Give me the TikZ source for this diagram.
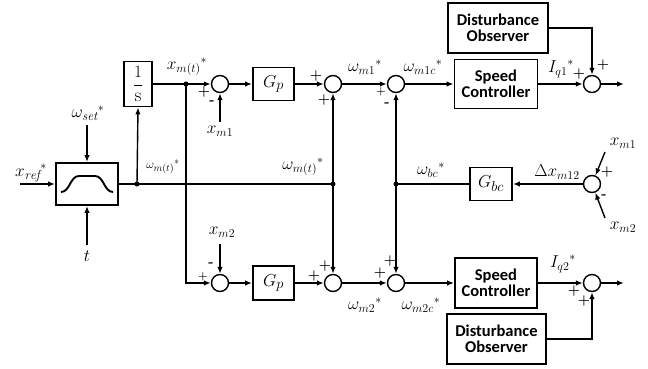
\documentclass[tikz,border=0pt]{standalone}
\usepackage{fontspec}
\newfontfamily\blkfont{Carlito}
\DeclareMathSizes{17}{17}{13}{10}
\DeclareMathSizes{13}{13}{10}{8}
\DeclareMathSizes{19}{19}{14.5}{11}
\usetikzlibrary{arrows.meta}
\begin{document}
\begin{tikzpicture}[x=1pt,y=-1pt,
  blk/.style={draw, line width=1.9pt, inner sep=0pt},
  sumn/.style={draw, circle, line width=1.4pt, minimum size=17pt, inner sep=0pt},
  dotn/.style={circle, fill, inner sep=0pt, minimum size=5pt},
  lbl/.style={font=\fontsize{17}{20}\selectfont, inner sep=0pt},
  slbl/.style={font=\fontsize{13}{15}\selectfont, inner sep=0pt},
  sgn/.style={font=\fontsize{14}{14}\selectfont\bfseries, inner sep=0pt},
  ssgn/.style={font=\fontsize{11}{12}\selectfont\bfseries, inner sep=0pt},
  txt/.style={font=\blkfont\bfseries\fontsize{16.5}{17}\selectfont, align=center},
  arr/.style={-{Latex[length=7pt,width=5.5pt]}, line width=1.4pt},
  ln/.style={line width=1.4pt}]
\useasboundingbox (0,0) rectangle (648,369);

% blocks
\node[blk, minimum width=62pt, minimum height=42pt] (ramp) at (87,184) {};
\draw[line width=1.9pt] (61,192) .. controls (70,192) and (70,176) .. (79,176) -- (95,176) .. controls (104,176) and (104,192) .. (113,192);
\node[blk, minimum width=28pt, minimum height=45pt] (integ) at (138,84) {\fontsize{19}{22}\selectfont$\displaystyle\frac{1}{\mathrm{s}}$};
\node[blk, minimum width=41pt, minimum height=33pt] (gp1) at (273.5,84) {\fontsize{19}{22}\selectfont$G_p$};
\node[blk, minimum width=41pt, minimum height=34pt] (gp2) at (273.5,283) {\fontsize{19}{22}\selectfont$G_p$};
\node[blk, minimum width=42pt, minimum height=33pt] (gbc) at (491,184) {\fontsize{19}{22}\selectfont$G_{bc}$};
\node[blk, minimum width=83pt, minimum height=49pt, txt] (sc1) at (496,84) {Speed\\[-1pt]Controller};
\node[blk, minimum width=82pt, minimum height=50pt, txt] (sc2) at (496,283) {Speed\\[-1pt]Controller};
\node[blk, minimum width=100pt, minimum height=50pt, txt] (do1) at (498,28) {Disturbance\\[-1pt]Observer};
\node[blk, minimum width=99pt, minimum height=50pt, txt] (do2) at (496.5,339) {Disturbance\\[-1pt]Observer};

% summing junctions
\node[sumn] (s1) at (220,84) {};
\node[sumn] (s2) at (333,84) {};
\node[sumn] (s3) at (396,84) {};
\node[sumn] (sf1) at (592,84) {};
\node[sumn] (s4) at (220,283) {};
\node[sumn] (s5) at (333,283) {};
\node[sumn] (s6) at (396,283) {};
\node[sumn] (sf2) at (592,283) {};
\node[sumn] (sd) at (592,184) {};

% junction dots
\node[dotn] (d1) at (137,184) {};
\node[dotn] (d2) at (186,84) {};
\node[dotn] (dA) at (333,184) {};
\node[dotn] (dB) at (396,184) {};

% free ends
\coordinate (xin) at (20,184);
\coordinate (wset) at (87,125);
\coordinate (tin) at (87,245);
\coordinate (xm1in) at (220,122);
\coordinate (xm2in) at (220,244);
\coordinate (xm1r) at (605,152);
\coordinate (xm2r) at (605,218);
\coordinate (o1) at (624,84);
\coordinate (o2) at (624,283);

% connectors
\draw[arr] (xin) -- (ramp.west);
\draw[arr] (wset) -- (ramp.north);
\draw[arr] (tin) -- (ramp.south);
\draw[ln] (ramp.east) -- (dA.center);
\draw[arr] (d1.center) -- (integ.south);
\draw[arr] (integ.east) -- (s1.west);
\draw[arr] (d2.center) |- (s4.west);
\draw[arr] (xm1in) -- (s1.south);
\draw[arr] (s1.east) -- (gp1.west);
\draw[arr] (gp1.east) -- (s2.west);
\draw[arr] (dA.center) -- (s2.south);
\draw[arr] (dA.center) -- (s5.north);
\draw[arr] (s2.east) -- (s3.west);
\draw[arr] (dB.center) -- (s3.south);
\draw[arr] (dB.center) -- (s6.north);
\draw[ln] (gbc.west) -- (dB.center);
\draw[arr] (sd.west) -- (gbc.east);
\draw[arr] (xm1r) -- (sd);
\draw[arr] (xm2r) -- (sd);
\draw[arr] (s3.east) -- (sc1.west);
\draw[arr] (sc1.east) -- (sf1.west);
\draw[arr] (do1.east) -| (sf1.north);
\draw[arr] (sf1.east) -- (o1);
\draw[arr] (xm2in) -- (s4.north);
\draw[arr] (s4.east) -- (gp2.west);
\draw[arr] (gp2.east) -- (s5.west);
\draw[arr] (s5.east) -- (s6.west);
\draw[arr] (s6.east) -- (sc2.west);
\draw[arr] (sc2.east) -- (sf2.west);
\draw[arr] (do2.east) -| (sf2.south);
\draw[arr] (sf2.east) -- (o2);

% labels
\node[lbl] (lxref) at (31,173) {${x_{\mathit{ref}}}^{*}$};
\node[lbl] (lwset) at (88,113) {${\omega_{\mathit{set}}}^{*}$};
\node[lbl] (lt) at (87,256) {$t$};
\node[slbl] (lwmt1) at (163,167) {${\omega_{m(t)}}^{*}$};
\node[lbl] (lxmt) at (187,67) {${x_{m(t)}}^{*}$};
\node[lbl] (lxm1) at (220,131) {$x_{m1}$};
\node[lbl] (lwm1) at (365,67) {${\omega_{m1}}^{*}$};
\node[lbl] (lwm1c) at (423,67) {${\omega_{m1c}}^{*}$};
\node[lbl] (lwmt2) at (303,167) {${\omega_{m(t)}}^{*}$};
\node[lbl] (lwbc) at (431,170) {${\omega_{bc}}^{*}$};
\node[lbl] (ldx) at (557,172) {$\Delta x_{m12}$};
\node[lbl] (lxm1r) at (623,143) {$x_{m1}$};
\node[lbl] (lxm2r) at (623,227) {$x_{m2}$};
\node[lbl] (liq1) at (561,69) {${I_{q1}}^{*}$};
\node[lbl] (lxm2) at (222,232) {$x_{m2}$};
\node[lbl] (lwm2) at (365,305) {${\omega_{m2}}^{*}$};
\node[lbl] (lwm2c) at (421,305) {${\omega_{m2c}}^{*}$};
\node[lbl] (liq2) at (563,264) {${I_{q2}}^{*}$};

% signs
\node[sgn] (p1) at (204,92) {+};
\node[sgn] (m1) at (212,103) {-};
\node[sgn] (p2a) at (316,76) {+};
\node[sgn] (p2b) at (324,100) {+};
\node[ssgn] (p3) at (381,92) {+};
\node[sgn] (m3) at (387,105) {-};
\node[sgn] (pf1a) at (579,74) {+};
\node[sgn] (pf1b) at (603,65) {+};
\node[sgn] (pd) at (607,172) {+};
\node[sgn] (md) at (604,197) {-};
\node[ssgn] (p4) at (203,277) {+};
\node[sgn] (m4) at (211,265) {-};
\node[sgn] (p5a) at (314,276) {+};
\node[sgn] (p5b) at (325,266) {+};
\node[sgn] (p6a) at (380,273) {+};
\node[sgn] (p6b) at (390,261) {+};
\node[sgn] (pf2a) at (574,291) {+};
\node[sgn] (pf2b) at (584,301) {+};
\end{tikzpicture}
\end{document}
